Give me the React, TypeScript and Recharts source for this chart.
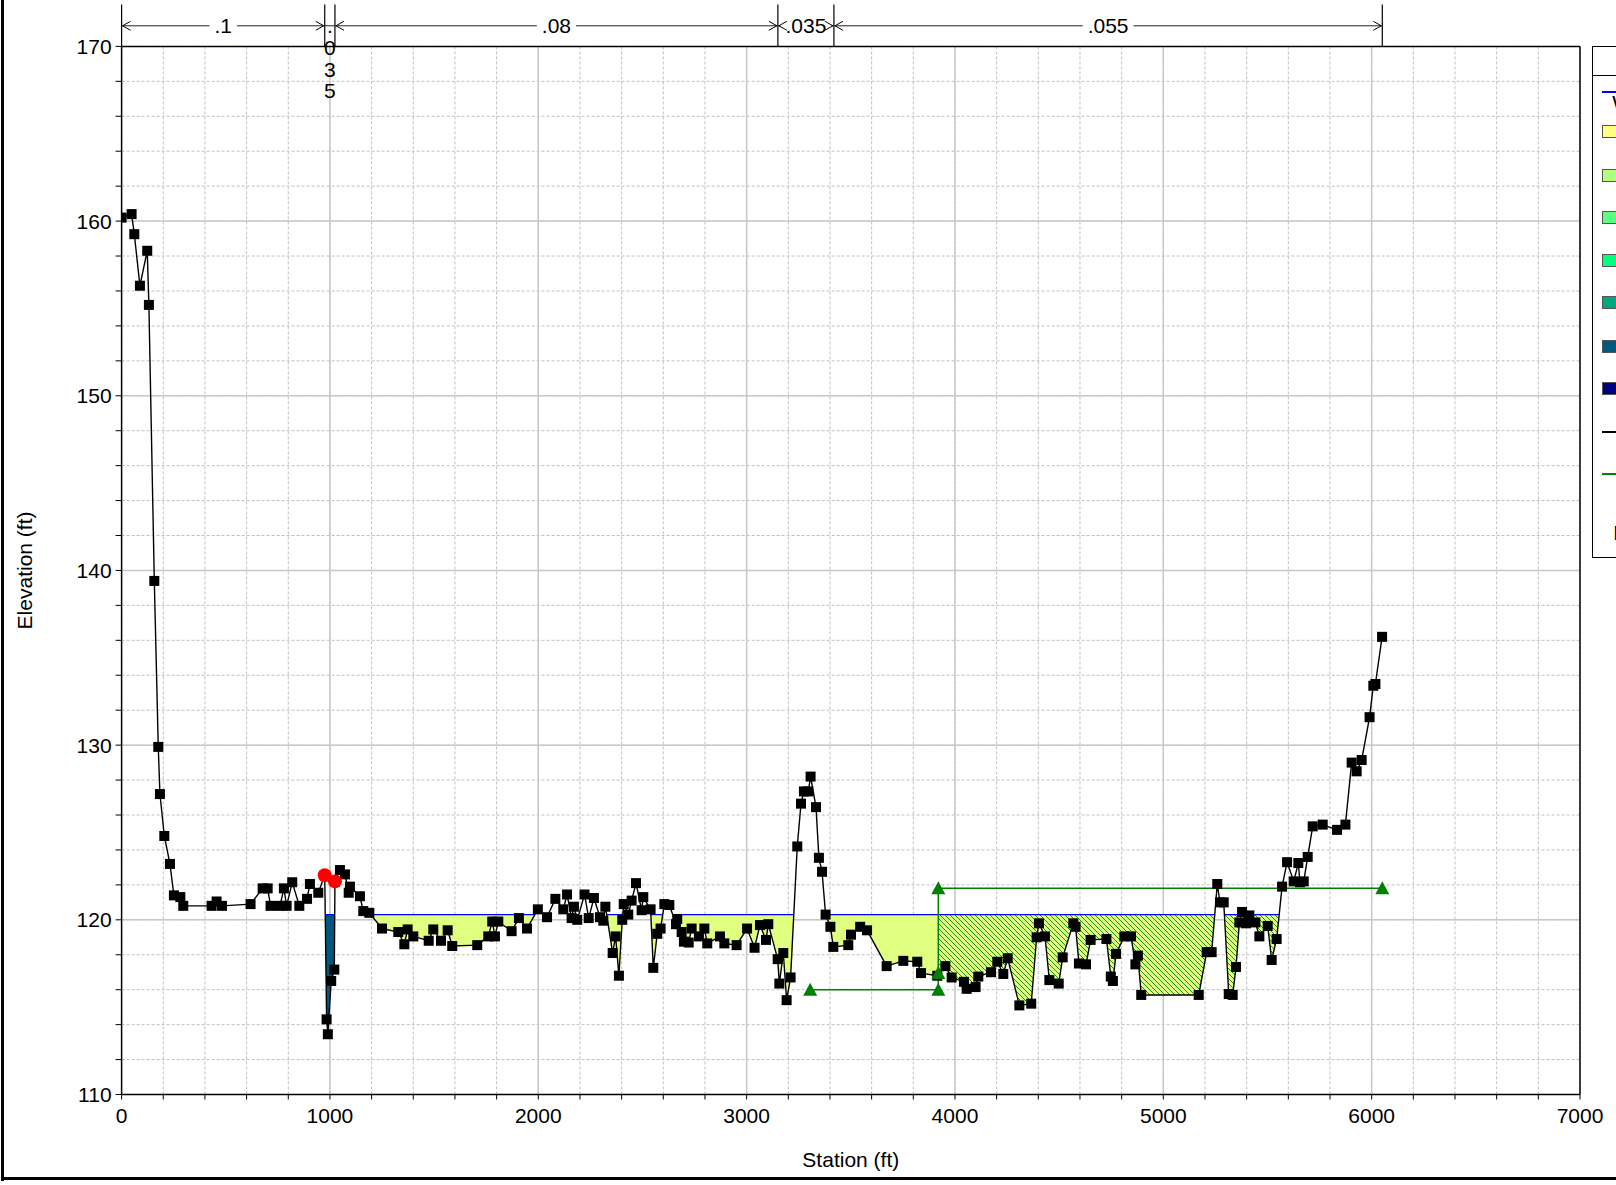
import React from 'react';
import {
  ComposedChart,
  Line,
  Area,
  XAxis,
  YAxis,
  CartesianGrid,
  ReferenceLine,
  Legend,
} from 'recharts';

// ---------------------------------------------------------------------------
// Cross-section survey (station ft, elevation ft)
// ---------------------------------------------------------------------------
const groundStation = [
  0, 48, 61, 88, 123, 131, 157, 176, 184, 205,
  232, 251, 282, 296, 432, 456, 482, 619, 677, 701,
  715, 760, 779, 792, 819, 853, 890, 904, 944, 975,
  984, 990, 1006, 1021, 1024, 1048, 1072, 1090, 1096, 1144,
  1160, 1189, 1250, 1328, 1357, 1373, 1400, 1474, 1496, 1533,
  1565, 1587, 1707, 1760, 1779, 1792, 1808, 1872, 1907, 1946,
  1998, 2042, 2082, 2120, 2138, 2160, 2171, 2187, 2222, 2242,
  2267, 2296, 2312, 2322, 2357, 2371, 2387, 2403, 2410, 2432,
  2448, 2469, 2496, 2504, 2539, 2552, 2571, 2587, 2605, 2629,
  2661, 2667, 2688, 2699, 2722, 2736, 2771, 2797, 2811, 2872,
  2893, 2952, 3002, 3038, 3064, 3093, 3104, 3149, 3157, 3176,
  3192, 3211, 3243, 3261, 3275, 3296, 3307, 3333, 3347, 3362,
  3379, 3402, 3416, 3488, 3501, 3545, 3578, 3672, 3752, 3819,
  3837, 3915, 3954, 3984, 4043, 4056, 4099, 4112, 4173, 4203,
  4232, 4253, 4309, 4366, 4392, 4403, 4432, 4453, 4498, 4517,
  4568, 4579, 4595, 4629, 4651, 4727, 4748, 4758, 4773, 4813,
  4845, 4866, 4878, 4894, 5170, 5208, 5232, 5259, 5272, 5290,
  5314, 5333, 5349, 5365, 5378, 5397, 5413, 5442, 5461, 5501,
  5520, 5544, 5570, 5594, 5626, 5648, 5656, 5674, 5693, 5717,
  5765, 5834, 5874, 5904, 5928, 5952, 5990, 6008, 6018, 6050,
];

const groundElev = [
  160.2, 160.4, 159.25, 156.3, 158.3, 155.2, 139.4, 129.9, 127.2, 124.8,
  123.2, 121.4, 121.3, 120.8, 120.8, 121.05, 120.8, 120.9, 121.8, 121.8,
  120.8, 120.8, 121.8, 120.8, 122.15, 120.8, 121.2, 122.05, 121.55, 122.55,
  114.3, 113.45, 116.5, 117.15, 122.2, 122.85, 122.6, 121.55, 121.9, 121.35,
  120.5, 120.4, 119.5, 119.3, 118.6, 119.45, 119.05, 118.8, 119.45, 118.8,
  119.4, 118.5, 118.55, 119.05, 119.9, 119.05, 119.9, 119.35, 120.1, 119.5,
  120.6, 120.15, 121.2, 120.6, 121.45, 120.1, 120.75, 120.0, 121.45, 120.1,
  121.25, 120.15, 119.95, 120.75, 118.1, 119.05, 116.8, 120.0, 120.9, 120.3,
  121.1, 122.1, 120.55, 121.3, 120.6, 117.25, 119.2, 119.5, 120.9, 120.85,
  119.75, 120.05, 119.3, 118.75, 118.7, 119.5, 119.05, 119.5, 118.65, 119.05,
  118.65, 118.55, 119.5, 118.4, 119.7, 118.85, 119.75, 117.75, 116.35, 118.1,
  115.4, 116.7, 124.2, 126.65, 127.35, 127.35, 128.2, 126.45, 123.55, 122.75,
  120.3, 119.6, 118.45, 118.55, 119.15, 119.6, 119.4, 117.35, 117.65, 117.6,
  116.95, 116.8, 117.35, 116.7, 116.45, 116.05, 116.15, 116.75, 117.0, 117.6,
  116.9, 117.8, 115.1, 115.2, 119.0, 119.8, 119.05, 116.55, 116.35, 117.85,
  119.8, 119.6, 117.5, 117.45, 118.85, 118.9, 116.75, 116.5, 118.05, 119.05,
  119.05, 117.45, 117.95, 115.7, 115.7, 118.15, 118.15, 122.05, 121.0, 121.0,
  115.75, 115.7, 117.3, 119.85, 120.45, 119.8, 120.25, 119.85, 119.05, 119.65,
  117.7, 118.9, 121.9, 123.3, 122.2, 123.25, 122.15, 122.2, 123.6, 125.35,
  125.45, 125.15, 125.45, 129.0, 128.5, 129.15, 131.6, 133.4, 133.5, 136.2,
];

const bankStations = [975, 1024];
const wsElevation = 120.3;

// Manning's n regions along the section
const nBreakStations = [0, 975, 1024, 3150, 3419, 6051];
const nValueLabels = ['.1', '.035', '.08', '.035', '.055'];

// Ineffective flow areas
const ineffLeft = [
  { station: 3305, elev: 116.0 },
  { station: 3920, elev: 116.0 },
];
const ineffRight = [
  { station: 3920, elev: 121.8 },
  { station: 6051, elev: 121.8 },
];
const ineffToe = [{ station: 3920, elev: 116.95 }];

// Axis ticks
const stationTicks = [
  0, 200, 400, 600, 800, 1000, 1200, 1400, 1600, 1800, 2000, 2200, 2400, 2600, 2800,
  3000, 3200, 3400, 3600, 3800, 4000, 4200, 4400, 4600, 4800, 5000, 5200, 5400, 5600,
  5800, 6000, 6200, 6400, 6600, 6800, 7000,
];
const stationMajor = [1000, 2000, 3000, 4000, 5000, 6000];
const elevationTicks = [
  110, 112, 114, 116, 118, 120, 122, 124, 126, 128, 130, 132, 134, 136, 138, 140,
  142, 144, 146, 148, 150, 152, 154, 156, 158, 160, 162, 164, 166, 168, 170,
];
const elevationMajor = [120, 130, 140, 150, 160];

// Legend entries
const velocityBands = [
  { label: '0.0 ft/s', color: '#ffff80' },
  { label: '0.5 ft/s', color: '#b0ff80' },
  { label: '1.0 ft/s', color: '#5cff80' },
  { label: '1.5 ft/s', color: '#00ff80' },
  { label: '2.0 ft/s', color: '#00a880' },
  { label: '2.5 ft/s', color: '#005a80' },
  { label: '3.0 ft/s', color: '#000080' },
];

// ---------------------------------------------------------------------------
const FONT = '"Liberation Sans", Arial, Helvetica, sans-serif';
const FS = 21;
const OVERBANK_FILL = '#e0ff80';
const CHANNEL_FILL = '#00587f';
const GREEN = '#008000';
const INEFF_START = ineffRight[0].station;
const INEFF_END = ineffRight[1].station;

type Band = [number, number] | null;
interface Row {
  station: number;
  ground: number;
  survey: boolean;
  overbank: Band;
  channel: Band;
  ineffective: Band;
  ws: number | null;
}

// Ground rows plus the water-edge crossings, so wetted areas close exactly
// where the ground passes through the water surface.
function buildRows(): Row[] {
  const rows: Row[] = [];
  const add = (station: number, ground: number, survey: boolean) => {
    const wet = ground <= wsElevation + 1e-9;
    const inChannel = station >= bankStations[0] && station <= bankStations[1];
    const band: Band = wet ? [ground, wsElevation] : null;
    rows.push({
      station,
      ground,
      survey,
      overbank: wet && !inChannel ? band : null,
      channel: wet && inChannel ? band : null,
      ineffective: wet && station >= INEFF_START && station <= INEFF_END ? band : null,
      ws: wet ? wsElevation : null,
    });
  };
  for (let i = 0; i < groundStation.length; i++) {
    add(groundStation[i], groundElev[i], true);
    if (i === groundStation.length - 1) break;
    const s0 = groundStation[i];
    const s1 = groundStation[i + 1];
    const e0 = groundElev[i];
    const e1 = groundElev[i + 1];
    const elevAt = (s: number) => e0 + ((e1 - e0) * (s - s0)) / (s1 - s0);
    const extra: number[] = [];
    if ((e0 - wsElevation) * (e1 - wsElevation) < 0) {
      extra.push(s0 + ((wsElevation - e0) / (e1 - e0)) * (s1 - s0));
    }
    if (INEFF_START > s0 && INEFF_START < s1) extra.push(INEFF_START);
    extra.sort((a, b) => a - b).forEach((s) => add(s, elevAt(s), false));
  }
  return rows;
}

const rows = buildRows();
const bankPoints = bankStations.map((s) => ({
  station: s,
  elev: groundElev[groundStation.indexOf(s)],
}));
const ineffVertical = [
  { station: INEFF_START, elev: ineffLeft[1].elev },
  { station: INEFF_START, elev: ineffRight[0].elev },
];

// ---------------------------------------------------------------------------
// Marks
// ---------------------------------------------------------------------------
const SurveyPoint = (p: any) => {
  const { cx, cy, payload, index } = p;
  if (!payload || !payload.survey || cx == null || cy == null) {
    return <g key={`sp-${index}`} />;
  }
  return <rect key={`sp-${index}`} x={cx - 5} y={cy - 5} width={10} height={10} fill="#000" />;
};

const BankMarker = (p: any) => (
  <circle key={`bk-${p.index}`} cx={p.cx} cy={p.cy} r={7} fill="#ff0000" />
);

const IneffMarker = (p: any) => (
  <polygon
    key={`im-${p.index}`}
    points={`${p.cx},${p.cy - 7} ${p.cx - 7},${p.cy + 6} ${p.cx + 7},${p.cy + 6}`}
    fill={GREEN}
  />
);

// n-value annotation row above the plot
const N_ROW = 171.18;
const N_TOP = 172.4;
const charWidth = (c: string) => (c === '.' ? 0.278 : 0.556);

function renderSpan(text: string, props: any) {
  const vb = props && props.viewBox ? props.viewBox : {};
  const x = Number(vb.x);
  const y = Number(vb.y);
  const w = Number(vb.width);
  if (!isFinite(x) || !isFinite(y) || !isFinite(w)) return <g />;
  const cx = x + w / 2;
  const tw = text.split('').reduce((a, c) => a + charWidth(c), 0) * FS;
  if (w < tw + 6) {
    return (
      <g>
        {text.split('').map((c, i) => (
          <text
            key={i}
            x={cx}
            y={y + i * 21.7}
            textAnchor="middle"
            dominantBaseline="central"
            fontSize={FS}
            fontFamily={FONT}
            fill="#000"
          >
            {c}
          </text>
        ))}
      </g>
    );
  }
  return (
    <g>
      <rect x={cx - tw / 2 - 5} y={y - 5} width={tw + 10} height={10} fill="#fff" />
      <text
        x={cx}
        y={y}
        textAnchor="middle"
        dominantBaseline="central"
        fontSize={FS}
        fontFamily={FONT}
        fill="#000"
      >
        {text}
      </text>
      <polyline
        points={`${x + 9},${y - 4.5} ${x + 1},${y} ${x + 9},${y + 4.5}`}
        fill="none"
        stroke="#000"
        strokeWidth={1}
      />
      <polyline
        points={`${x + w - 9},${y - 4.5} ${x + w - 1},${y} ${x + w - 9},${y + 4.5}`}
        fill="none"
        stroke="#000"
        strokeWidth={1}
      />
    </g>
  );
}

const renderXLabel = (p: any) => {
  const vb = p && p.viewBox ? p.viewBox : {};
  const cx = Number(vb.x) + Number(vb.width) / 2;
  const cy = Number(vb.y) + 65;
  return (
    <text x={cx} y={cy} textAnchor="middle" dominantBaseline="central" fontSize={FS} fontFamily={FONT} fill="#000">
      Station (ft)
    </text>
  );
};

const renderYLabel = (p: any) => {
  const vb = p && p.viewBox ? p.viewBox : {};
  const cx = Number(vb.x) + 3.1;
  const cy = Number(vb.y) + Number(vb.height) / 2;
  return (
    <text
      x={cx}
      y={cy}
      transform={`rotate(-90 ${cx} ${cy})`}
      textAnchor="middle"
      dominantBaseline="central"
      fontSize={FS}
      fontFamily={FONT}
      fill="#000"
    >
      Elevation (ft)
    </text>
  );
};

// ---------------------------------------------------------------------------
// Legend panel
// ---------------------------------------------------------------------------
const LegendPanel = () => {
  const rowStyle = (top: number): React.CSSProperties => ({
    position: 'absolute',
    left: 0,
    top,
    width: '100%',
    height: 0,
  });
  const boxTop = [84.5, 127.8, 170, 213.3, 255.6, 298.9, 341.1];
  return (
    <div
      style={{
        position: 'relative',
        width: 240,
        height: 512,
        border: '1.5px solid #000',
        boxSizing: 'border-box',
        background: '#fff',
        fontFamily: FONT,
        fontSize: FS,
        color: '#000',
      }}
    >
      <div
        style={{
          position: 'absolute',
          left: 0,
          top: 0,
          width: '100%',
          height: 28,
          borderBottom: '1px solid #000',
          textAlign: 'center',
          lineHeight: '28px',
        }}
      >
        Legend
      </div>
      <div style={rowStyle(44)}>
        <div style={{ position: 'absolute', left: 9, top: 0, width: 40, height: 1.3, background: '#0000ff' }} />
      </div>
      <div style={{ position: 'absolute', left: 19, top: 44, lineHeight: '24px', whiteSpace: 'nowrap' }}>WS PF 1</div>
      {velocityBands.map((b, i) => (
        <div key={b.label} style={rowStyle(boxTop[i])}>
          <div
            style={{
              position: 'absolute',
              left: 9,
              top: -6.5,
              width: 40,
              height: 13,
              boxSizing: 'border-box',
              border: '1px solid #555',
              background: b.color,
            }}
          />
          <div style={{ position: 'absolute', left: 58, top: -12, lineHeight: '24px', whiteSpace: 'nowrap' }}>
            {b.label}
          </div>
        </div>
      ))}
      <div style={rowStyle(384)}>
        <div style={{ position: 'absolute', left: 9, top: 0, width: 40, height: 1.3, background: '#000' }} />
        <div style={{ position: 'absolute', left: 58, top: -12, lineHeight: '24px' }}>Ground</div>
      </div>
      <div style={rowStyle(426)}>
        <div style={{ position: 'absolute', left: 9, top: 0, width: 40, height: 1.3, background: GREEN }} />
        <div style={{ position: 'absolute', left: 58, top: -12, lineHeight: '24px' }}>Ineff</div>
      </div>
      <div style={{ position: 'absolute', left: 20, top: 474, lineHeight: '24px', whiteSpace: 'nowrap' }}>Bank Sta</div>
    </div>
  );
};

// ---------------------------------------------------------------------------
export default function App() {
  const spans = nValueLabels.map((t, i) => ({
    text: t,
    from: nBreakStations[i],
    to: nBreakStations[i + 1],
  }));

  return (
    <div
      style={{
        position: 'relative',
        width: 1616,
        height: 1185,
        overflow: 'hidden',
        background: '#fff',
        fontFamily: FONT,
      }}
    >
      <style>{'html,body{margin:0;padding:0;overflow:hidden;background:#fff;}'}</style>
      <ComposedChart
        width={1616}
        height={1185}
        data={rows}
        margin={{ top: 46.4, right: 36, bottom: 30.5, left: 21.6 }}
      >
        <defs>
          <pattern id="ineffHatch" width={5} height={5} patternUnits="userSpaceOnUse">
            <path d="M-1,-1 L6,6 M-1,4 L1,6 M4,-1 L6,1" stroke="#1c931c" strokeWidth={1} />
          </pattern>
        </defs>

        <CartesianGrid
          verticalValues={stationTicks}
          horizontalValues={elevationTicks}
          stroke="#c0c0c0"
          strokeDasharray="3 2"
        />
        <CartesianGrid
          verticalValues={stationMajor}
          horizontalValues={elevationMajor}
          stroke="#c8c8c8"
          strokeWidth={1.5}
        />

        <XAxis
          dataKey="station"
          type="number"
          domain={[0, 7000]}
          ticks={stationTicks}
          interval={0}
          allowDataOverflow
          tickFormatter={(v: number) => (v % 1000 === 0 ? String(v) : '')}
          tickSize={5}
          tickMargin={9}
          height={60}
          axisLine={{ stroke: '#000', strokeWidth: 1.5 }}
          tickLine={{ stroke: '#000' }}
          tick={{ fontSize: FS, fill: '#000', fontFamily: FONT }}
          label={renderXLabel}
        />
        <YAxis
          type="number"
          domain={[110, 170]}
          ticks={elevationTicks}
          interval={0}
          allowDataOverflow
          tickFormatter={(v: number) => (v % 10 === 0 ? String(v) : '')}
          tickSize={6}
          tickMargin={4}
          width={100}
          axisLine={{ stroke: '#000', strokeWidth: 1.5 }}
          tickLine={{ stroke: '#000' }}
          tick={{ fontSize: FS, fill: '#000', fontFamily: FONT }}
          label={renderYLabel}
        />

        <ReferenceLine y={170} stroke="#000" strokeWidth={1.5} />
        <ReferenceLine x={7000} stroke="#000" strokeWidth={1.5} />

        {/* wetted areas */}
        <Area
          dataKey="overbank"
          type="linear"
          stroke="none"
          fill={OVERBANK_FILL}
          fillOpacity={1}
          isAnimationActive={false}
          dot={false}
          activeDot={false}
        />
        <Area
          dataKey="channel"
          type="linear"
          stroke="none"
          fill={CHANNEL_FILL}
          fillOpacity={1}
          isAnimationActive={false}
          dot={false}
          activeDot={false}
        />
        <Area
          dataKey="ineffective"
          type="linear"
          stroke="none"
          fill="url(#ineffHatch)"
          fillOpacity={1}
          isAnimationActive={false}
          dot={false}
          activeDot={false}
        />

        {/* water surface */}
        <Line
          dataKey="ws"
          type="linear"
          stroke="#0000ff"
          strokeWidth={1.3}
          dot={false}
          activeDot={false}
          isAnimationActive={false}
        />

        {/* ineffective flow limits */}
        <Line
          data={ineffVertical}
          dataKey="elev"
          type="linear"
          stroke={GREEN}
          strokeWidth={1.5}
          dot={false}
          activeDot={false}
          isAnimationActive={false}
        />
        <Line
          data={ineffLeft}
          dataKey="elev"
          type="linear"
          stroke={GREEN}
          strokeWidth={1.5}
          dot={false}
          activeDot={false}
          isAnimationActive={false}
        />
        <Line
          data={ineffRight}
          dataKey="elev"
          type="linear"
          stroke={GREEN}
          strokeWidth={1.5}
          dot={false}
          activeDot={false}
          isAnimationActive={false}
        />

        {/* ground */}
        <Line
          dataKey="ground"
          type="linear"
          stroke="#000"
          strokeWidth={1.4}
          dot={SurveyPoint}
          activeDot={false}
          isAnimationActive={false}
        />

        {/* bank stations */}
        <Line
          data={bankPoints}
          dataKey="elev"
          stroke="none"
          dot={BankMarker}
          activeDot={false}
          isAnimationActive={false}
        />

        {/* ineffective markers */}
        <Line
          data={ineffLeft}
          dataKey="elev"
          stroke="none"
          dot={IneffMarker}
          activeDot={false}
          isAnimationActive={false}
        />
        <Line
          data={ineffRight}
          dataKey="elev"
          stroke="none"
          dot={IneffMarker}
          activeDot={false}
          isAnimationActive={false}
        />
        <Line
          data={ineffToe}
          dataKey="elev"
          stroke="none"
          dot={IneffMarker}
          activeDot={false}
          isAnimationActive={false}
        />

        {/* Manning's n regions */}
        {nBreakStations.map((s) => (
          <ReferenceLine
            key={`nb-${s}`}
            segment={[
              { x: s, y: 170 },
              { x: s, y: N_TOP },
            ]}
            ifOverflow="visible"
            stroke="#000"
            strokeWidth={1.2}
          />
        ))}
        {spans.map((sp, i) => (
          <ReferenceLine
            key={`ns-${i}`}
            segment={[
              { x: sp.from, y: N_ROW },
              { x: sp.to, y: N_ROW },
            ]}
            ifOverflow="visible"
            stroke="#222"
            strokeWidth={1}
            label={(p: any) => renderSpan(sp.text, p)}
          />
        ))}

        <Legend
          layout="horizontal"
          verticalAlign="middle"
          align="center"
          wrapperStyle={{ left: 1592.3, top: 46.4, width: 240, height: 512, margin: 0, padding: 0 }}
          content={() => <LegendPanel />}
        />
      </ComposedChart>

      {/* figure frame */}
      <div style={{ position: 'absolute', left: 1, top: 0, width: 3, height: 1181, background: '#000' }} />
      <div style={{ position: 'absolute', left: 1, top: 1177, width: 1615, height: 3, background: '#000' }} />
    </div>
  );
}
